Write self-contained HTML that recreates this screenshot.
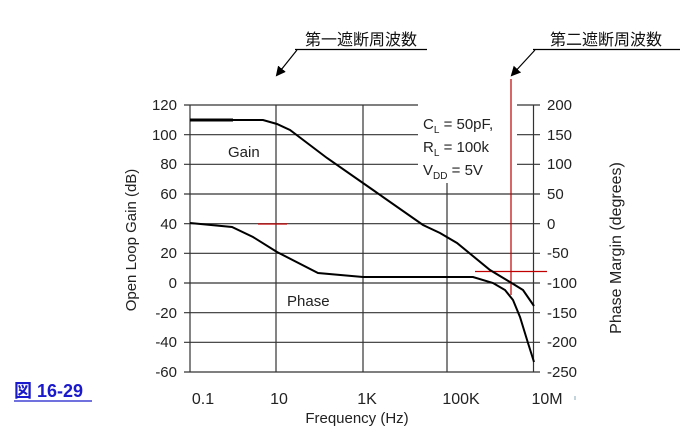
<!DOCTYPE html>
<html><head><meta charset="utf-8"><style>
body{margin:0;background:#fff;}
svg{display:block;}
text{font-family:"Liberation Sans",Arial,sans-serif;fill:#222;}
.cjk{font-family:"Liberation Sans","Noto Sans CJK JP",sans-serif;fill:#111;}
</style></head><body>
<svg width="691" height="434" viewBox="0 0 691 434" xmlns="http://www.w3.org/2000/svg">
<defs><marker id="ah" markerWidth="10" markerHeight="10" refX="8" refY="5" orient="auto" markerUnits="userSpaceOnUse"><path d="M0,0 L10,5 L0,10 z" fill="#000"/></marker></defs>
<text x="305" y="45" class="cjk" font-size="16">第一遮断周波数</text>
<line x1="295" y1="49.5" x2="427" y2="49.5" stroke="#000" stroke-width="1.2"/>
<line x1="297" y1="50" x2="277" y2="75" stroke="#000" stroke-width="1.2" marker-end="url(#ah)"/>
<text x="550" y="45" class="cjk" font-size="16">第二遮断周波数</text>
<line x1="533" y1="49.5" x2="680" y2="49.5" stroke="#000" stroke-width="1.2"/>
<line x1="535" y1="50" x2="512" y2="75" stroke="#000" stroke-width="1.2" marker-end="url(#ah)"/>
<g stroke="#333" stroke-width="1.2">
<line x1="184" y1="105" x2="418" y2="105"/><line x1="517" y1="105" x2="540" y2="105"/>
<line x1="184" y1="134.7" x2="418" y2="134.7"/><line x1="517" y1="134.7" x2="540" y2="134.7"/>
<line x1="184" y1="164.3" x2="418" y2="164.3"/><line x1="517" y1="164.3" x2="540" y2="164.3"/>
<line x1="184" y1="194" x2="540" y2="194"/>
<line x1="184" y1="223.7" x2="540" y2="223.7"/>
<line x1="184" y1="253.3" x2="540" y2="253.3"/>
<line x1="184" y1="283" x2="540" y2="283"/>
<line x1="184" y1="312.7" x2="540" y2="312.7"/>
<line x1="184" y1="342.3" x2="540" y2="342.3"/>
<line x1="184" y1="372" x2="540" y2="372"/>
<line x1="190" y1="105" x2="190" y2="372"/>
<line x1="276" y1="105" x2="276" y2="372"/>
<line x1="363" y1="105" x2="363" y2="372"/>
<line x1="447" y1="183" x2="447" y2="372"/>
<line x1="533.5" y1="105" x2="533.5" y2="372"/>
</g>
<text x="423" y="129" font-size="15">C<tspan font-size="10" dy="4">L</tspan><tspan dy="-4"> = 50pF,</tspan></text>
<text x="423" y="152" font-size="15">R<tspan font-size="10" dy="4">L</tspan><tspan dy="-4"> = 100k</tspan></text>
<text x="423" y="175" font-size="15">V<tspan font-size="10" dy="4">DD</tspan><tspan dy="-4"> = 5V</tspan></text>
<text x="228" y="157" font-size="15">Gain</text>
<text x="287" y="306" font-size="15">Phase</text>
<g stroke="#c00000" stroke-width="1.2">
<line x1="511" y1="79" x2="511" y2="295"/>
<line x1="475" y1="271.5" x2="547" y2="271.5"/>
<line x1="258" y1="224" x2="287" y2="224"/>
</g>
<polyline fill="none" stroke="#000" stroke-width="2" points="190,120 263,120 277,124 290,130 327,158 373,190 423,225 440,233 457,243 490,270 510,282 523,290 534,306"/>
<line x1="190" y1="120" x2="233" y2="120" stroke="#000" stroke-width="3"/>
<polyline fill="none" stroke="#000" stroke-width="2" points="190,223 232,227 253,237 277,252 318,273 363,277 473,277 493,283 505,290 513,300 520,317 528,343 534,362"/>
<g font-size="15" text-anchor="end">
<text x="177" y="110">120</text><text x="177" y="140">100</text><text x="177" y="169">80</text>
<text x="177" y="199">60</text><text x="177" y="229">40</text><text x="177" y="258">20</text>
<text x="177" y="288">0</text><text x="177" y="318">-20</text><text x="177" y="347">-40</text><text x="177" y="377">-60</text>
</g>
<g font-size="15">
<text x="547" y="110">200</text><text x="547" y="140">150</text><text x="547" y="169">100</text>
<text x="547" y="199">50</text><text x="547" y="229">0</text><text x="547" y="258">-50</text>
<text x="547" y="288">-100</text><text x="547" y="318">-150</text><text x="547" y="347">-200</text><text x="547" y="377">-250</text>
</g>
<g font-size="16" text-anchor="middle">
<text x="203" y="404">0.1</text><text x="279" y="404">10</text><text x="367" y="404">1K</text>
<text x="461" y="404">100K</text><text x="547" y="404">10M</text>
</g>
<line x1="575" y1="396" x2="575" y2="400" stroke="#8ab" stroke-width="1"/>
<text x="357" y="423" font-size="15" text-anchor="middle">Frequency (Hz)</text>
<text transform="translate(136,240) rotate(-90)" font-size="15" text-anchor="middle">Open Loop Gain (dB)</text>
<text transform="translate(621,248) rotate(-90)" font-size="16" text-anchor="middle">Phase Margin (degrees)</text>
<text x="14" y="397" font-size="18" font-weight="bold" class="cjk" style="fill:#1a1acc">図 16-29</text>
<line x1="14" y1="401" x2="92" y2="401" stroke="#1a1acc" stroke-width="1.3"/>
</svg>
</body></html>
